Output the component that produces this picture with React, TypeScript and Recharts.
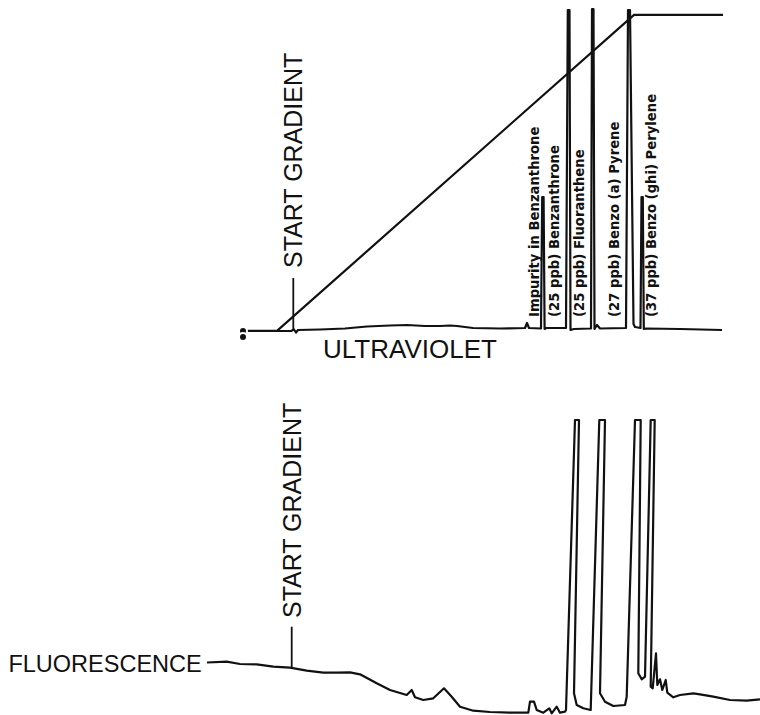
import { LineChart, Line, XAxis, YAxis, ReferenceLine, ReferenceDot } from 'recharts';

// time in minutes after injection, shared by both detectors
const uvTime = [
  0.3, 0.3, 3.7, 5.1, 5.4, 5.6, 5.8, 8.0, 10.5, 12.7,
  15.0, 16.7, 18.5, 20.0, 21.0, 21.7, 23.3, 26.0, 28.5, 28.7,
  28.9, 30.1, 30.22, 30.36, 30.46, 30.6, 32.6, 32.78, 32.95, 33.05,
  33.4, 35.1, 35.2, 35.35, 35.45, 35.7, 36.0, 38.6, 38.8, 39.0,
  39.35, 39.5, 40.05, 40.15, 40.28, 40.38, 40.6, 44.0, 48.2,
];
// UV absorbance (arbitrary units)
const uvAbs = [
  -0.7, -0.1, -0.1, -0.1, 0.05, -0.25, 0.0, 0.05, 0.15, 0.35,
  0.45, 0.5, 0.4, 0.4, 0.45, 0.4, 0.2, 0.15, 0.2, 0.7,
  0.2, 0.15, 13.3, 13.3, 0.1, 0.2, 0.2, 32.0, 32.0, 0.0,
  0.1, 0.15, 32.1, 32.1, 0.1, 0.5, 0.15, 0.2, 32.0, 32.0,
  0.6, 0.3, 0.2, 13.3, 13.3, 0.1, 0.15, 0.1, 0.0,
];

// solvent programme, % strong solvent
const gradTime = [0.3, 3.7, 39.4, 48.3];
const gradPct = [0, 0, 100, 100];

const flTime = [
  -3.3, -1.33, 0, 1.67, 3.33, 5.0, 6.67, 8.33, 9.67, 11.0,
  12.0, 13.67, 15.0, 16.67, 17.17, 17.5, 18.33, 19.33, 20.4, 21.17,
  22.0, 23.33, 25.0, 27.33, 28.83, 29.0, 29.4, 29.67, 30.33, 30.93,
  31.17, 31.67, 32.0, 32.5, 32.6, 33.5, 33.9, 33.4, 33.67, 34.33,
  35.07, 35.93, 36.5, 36.0, 36.5, 37.33, 38.5, 38.67, 39.5, 40.07,
  39.83, 40.17, 40.5, 41.07, 41.47, 41.07, 41.27, 41.6, 41.73, 42.0,
  42.23, 42.57, 42.73, 43.33, 44.0, 45.33, 46.0, 47.33, 49.0, 50.67,
  52.0,
];
const flResp = [
  5.25, 5.33, 5.1, 5.07, 4.83, 4.73, 4.43, 4.23, 4.23, 4.27,
  4.07, 3.17, 2.5, 2.0, 2.5, 1.77, 1.5, 1.67, 2.67, 1.83,
  0.83, 0.43, 0.3, 0.23, 0.23, 1.33, 1.33, 0.5, 0.23, 0.67,
  0.17, 0.83, 0.23, 0.33, 0.5, 29.5, 29.5, 2.17, 1.0, 0.67,
  0.5, 29.5, 29.5, 2.17, 1.33, 0.9, 1.0, 1.83, 29.5, 29.5,
  4.17, 3.57, 3.83, 29.5, 29.5, 2.83, 2.67, 6.17, 3.0, 3.57,
  2.5, 3.5, 2.23, 1.77, 2.0, 2.17, 2.07, 1.83, 1.5, 1.43,
  1.57,
];

const peakNames = [
  'Impurity in Benzanthrone',
  '(25 ppb) Benzanthrone',
  '(25 ppb) Fluoranthene',
  '(27 ppb) Benzo (a) Pyrene',
  '(37 ppb) Benzo (ghi) Perylene',
];
const peakLabelTime = [29.4, 31.4, 33.9, 37.4, 41.1];
const peakLabelAbs = 1.3;

const uvMarkTime = 5.33;
const uvMark = [-0.1, 5.2];
const uvMarkLabelAbs = 6.2;
const flMarkTime = 5.17;
const flMark = [4.75, 8.83];
const flMarkLabelResp = 9.7;

const uvTitle = 'ULTRAVIOLET';
const uvTitlePos = [8.3, -2.75];
const flTitle = 'FLUORESCENCE';
const flTitlePos = [-3.83, 4.33];

const zip = (xs: number[], ys: number[]) => xs.map((t, i) => ({ t, v: ys[i] }));
const uvData = zip(uvTime, uvAbs);
const gradData = zip(gradTime, gradPct);
const flData = zip(flTime, flResp);

const INK = '#111';
const SANS = '"Liberation Sans", Arial, sans-serif';
const LABEL = '"DejaVu Sans", sans-serif';

interface TextOpts {
  size: number;
  rotate?: boolean;
  anchor?: 'start' | 'middle' | 'end';
  family?: string;
  weight?: string | number;
}

function textShape(label: string, { size, rotate, anchor = 'start', family = SANS, weight = 'normal' }: TextOpts) {
  return (p: { cx?: number; cy?: number }) => {
    const cx = p.cx ?? 0;
    const cy = p.cy ?? 0;
    return (
      <text
        x={cx}
        y={cy}
        fill={INK}
        fontSize={size}
        fontFamily={family}
        fontWeight={weight}
        textAnchor={anchor}
        dominantBaseline={rotate ? 'central' : 'alphabetic'}
        transform={rotate ? `rotate(-90 ${cx} ${cy})` : undefined}
      >
        {label}
      </text>
    );
  };
}

const W = 760;
const X_DOMAIN: [number, number] = [-24, 52];

export default function App() {
  return (
    <div style={{ position: 'absolute', left: 0, top: 0, width: W, height: 715, background: '#fff' }}>
      <LineChart width={W} height={370} margin={{ top: 0, right: 0, bottom: 0, left: 0 }}>
        <XAxis type="number" dataKey="t" domain={X_DOMAIN} allowDataOverflow hide />
        <YAxis yAxisId="uv" type="number" domain={[-4, 33]} allowDataOverflow hide />
        <YAxis yAxisId="grad" type="number" domain={[-12.37, 104.7]} allowDataOverflow hide />
        <Line
          yAxisId="grad"
          data={gradData}
          dataKey="v"
          stroke={INK}
          strokeWidth={2.2}
          dot={false}
          type="linear"
          isAnimationActive={false}
        />
        <Line
          yAxisId="uv"
          data={uvData}
          dataKey="v"
          stroke={INK}
          strokeWidth={2.2}
          strokeLinejoin="round"
          dot={false}
          type="linear"
          isAnimationActive={false}
        />
        <ReferenceLine
          yAxisId="uv"
          segment={[{ x: uvMarkTime, y: uvMark[0] }, { x: uvMarkTime, y: uvMark[1] }]}
          stroke={INK}
          strokeWidth={1.8}
        />
        <ReferenceDot
          yAxisId="uv"
          x={uvMarkTime}
          y={uvMarkLabelAbs}
          r={0}
          shape={textShape('START GRADIENT', { size: 25, rotate: true })}
        />
        <ReferenceDot
          yAxisId="uv"
          x={uvTitlePos[0]}
          y={uvTitlePos[1]}
          r={0}
          shape={textShape(uvTitle, { size: 26 })}
        />
        {peakNames.map((name, i) => (
          <ReferenceDot
            key={name}
            yAxisId="uv"
            x={peakLabelTime[i]}
            y={peakLabelAbs}
            r={0}
            shape={textShape(name, { size: 13.2, rotate: true, family: LABEL, weight: 'bold' })}
          />
        ))}
      </LineChart>
      <LineChart width={W} height={345} margin={{ top: 0, right: 0, bottom: 0, left: 0 }}>
        <XAxis type="number" dataKey="t" domain={X_DOMAIN} allowDataOverflow hide />
        <YAxis yAxisId="fl" type="number" domain={[0, 34.5]} allowDataOverflow hide />
        <Line
          yAxisId="fl"
          data={flData}
          dataKey="v"
          stroke={INK}
          strokeWidth={2.2}
          strokeLinejoin="round"
          dot={false}
          type="linear"
          isAnimationActive={false}
        />
        <ReferenceLine
          yAxisId="fl"
          segment={[{ x: flMarkTime, y: flMark[0] }, { x: flMarkTime, y: flMark[1] }]}
          stroke={INK}
          strokeWidth={1.8}
        />
        <ReferenceDot
          yAxisId="fl"
          x={flMarkTime}
          y={flMarkLabelResp}
          r={0}
          shape={textShape('START GRADIENT', { size: 25, rotate: true })}
        />
        <ReferenceDot
          yAxisId="fl"
          x={flTitlePos[0]}
          y={flTitlePos[1]}
          r={0}
          shape={textShape(flTitle, { size: 23.5, anchor: 'end' })}
        />
      </LineChart>
    </div>
  );
}
